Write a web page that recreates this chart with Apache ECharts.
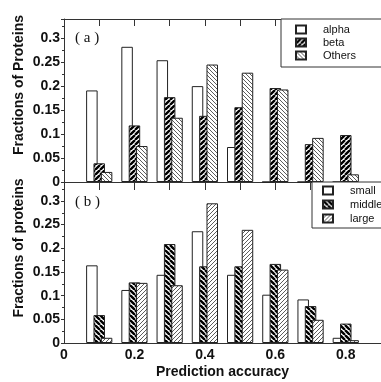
<!DOCTYPE html>
<html lang="en">
<head>
    <meta charset="UTF-8">
    <script src="https://cdn.jsdelivr.net/npm/echarts@6/dist/echarts.min.js"></script>
    <style>
        html, body { margin: 0; padding: 0; background: #fff; }
        #chart { width: 381px; height: 382px; }
    </style>
    <title>Prediction accuracy</title>
</head>
<body>
    <div id="chart"></div>
</body>
</html>
<script type="text/javascript">
    // bin centres on the x axis
    var xs = [0.1, 0.2, 0.3, 0.4, 0.5, 0.6, 0.7, 0.8];
    // panel (a)
    var alpha  = [0.191, 0.282, 0.254, 0.200, 0.073, 0, 0, 0];
    var beta   = [0.039, 0.118, 0.177, 0.138, 0.156, 0.196, 0.079, 0.098];
    var others = [0.021, 0.075, 0.134, 0.245, 0.228, 0.193, 0.092, 0.016];
    // panel (b)
    var small  = [0.164, 0.112, 0.144, 0.236, 0.144, 0.102, 0.092, 0.011];
    var middle = [0.059, 0.128, 0.209, 0.162, 0.162, 0.167, 0.078, 0.041];
    var large  = [0.011, 0.127, 0.122, 0.295, 0.239, 0.155, 0.049, 0.006];

    var FONT = 'Arial, "Liberation Sans", sans-serif';

    // hatch fill: dir 1 = "/", dir -1 = "\"
    function hatch(size, lw, dir, color) {
        var c = document.createElement('canvas');
        c.width = size; c.height = size;
        var ctx = c.getContext('2d');
        ctx.fillStyle = '#fff';
        ctx.fillRect(0, 0, size, size);
        ctx.strokeStyle = color;
        ctx.lineWidth = lw;
        ctx.beginPath();
        for (var k = -1; k <= 1; k++) {
            var x0 = k * size;
            if (dir > 0) {
                ctx.moveTo(x0, size); ctx.lineTo(x0 + size, 0);
            } else {
                ctx.moveTo(x0, 0); ctx.lineTo(x0 + size, size);
            }
        }
        ctx.stroke();
        return { image: c, repeat: 'repeat' };
    }

    function pairs(vals) {
        return xs.map(function (x, i) { return [x, vals[i]]; });
    }

    function barSeries(name, vals, fill, gi) {
        return {
            name: name,
            type: 'bar',
            xAxisIndex: gi === 0 ? 0 : 2,
            yAxisIndex: gi,
            barWidth: 11.5,
            barGap: '-36%',
            data: pairs(vals),
            itemStyle: { color: fill, borderColor: '#222', borderWidth: 1 },
            silent: true
        };
    }

    function yAxisOf(gi) {
        return {
            type: 'value', gridIndex: gi, min: 0, max: 0.34, interval: 0.05,
            axisLine: { show: true, lineStyle: { color: '#333' } },
            axisTick: { show: true, inside: false, length: 3, lineStyle: { color: '#333' } },
            minorTick: { show: true, splitNumber: 2, length: 2, lineStyle: { color: '#333' } },
            splitLine: { show: false },
            axisLabel: { show: true, showMaxLabel: false, margin: 4, color: '#111',
                fontFamily: FONT, fontSize: 14, fontWeight: 'bold' }
        };
    }

    function xAxisOf(gi, pos, opts) {
        return Object.assign({
            type: 'value', gridIndex: gi, position: pos, min: 0, max: 0.9, interval: 0.1,
            axisLine: { show: true, onZero: false, lineStyle: { color: '#333' } },
            splitLine: { show: false },
            axisLabel: { show: false }
        }, opts);
    }

    var chartDom = document.getElementById('chart');
    var myChart = echarts.init(chartDom, null, { renderer: 'canvas' });
    var option;

    option = {
        backgroundColor: '#fff',
        animation: false,
        grid: [
            { left: 64, top: 19, right: -12, height: 163 },
            { left: 64, top: 182, right: -12, height: 161 }
        ],
        xAxis: [
            xAxisOf(0, 'bottom', { axisTick: { show: true, inside: false, length: 8, lineStyle: { color: '#333' } } }),
            xAxisOf(0, 'top', { axisTick: { show: true, inside: true, length: 7, lineStyle: { color: '#333' } } }),
            xAxisOf(1, 'bottom', {
                axisTick: { show: true, inside: true, length: 5, lineStyle: { color: '#333' } },
                axisLabel: {
                    show: true, margin: 5, color: '#111', fontFamily: FONT, fontSize: 14, fontWeight: 'bold',
                    showMaxLabel: false,
                    formatter: function (v) {
                        return Math.round(v * 10) % 2 === 0 ? String(+v.toFixed(1)) : '';
                    }
                },
                name: 'Prediction accuracy',
                nameLocation: 'middle',
                nameGap: 22,
                nameTextStyle: { color: '#111', fontFamily: FONT, fontSize: 14, fontWeight: 'bold' }
            })
        ],
        yAxis: [yAxisOf(0), yAxisOf(1)],
        legend: [
            {
                data: ['alpha', 'beta', 'Others'],
                orient: 'vertical', left: 281, top: 19,
                padding: [5, 80, 6, 14], itemGap: 2,
                itemWidth: 10, itemHeight: 8, icon: 'rect',
                backgroundColor: '#fff', borderColor: '#333', borderWidth: 1,
                selectedMode: false,
                textStyle: { color: '#111', fontFamily: FONT, fontSize: 11, padding: [0, 0, 0, 12] }
            },
            {
                data: ['small', 'middle', 'large'],
                orient: 'vertical', left: 312, top: 182,
                padding: [3, 80, 4, 10], itemGap: 3,
                itemWidth: 10, itemHeight: 8, icon: 'rect',
                backgroundColor: '#fff', borderColor: '#333', borderWidth: 1,
                selectedMode: false,
                textStyle: { color: '#111', fontFamily: FONT, fontSize: 11, padding: [0, 0, 0, 12] }
            }
        ],
        graphic: [
            { type: 'text', x: 75, y: 38, style: { text: '( a )', font: '15px "Liberation Serif", serif', fill: '#111', verticalAlign: 'middle' } },
            { type: 'text', x: 75, y: 202, style: { text: '( b )', font: '15px "Liberation Serif", serif', fill: '#111', verticalAlign: 'middle' } },
            { type: 'text', x: 19, y: 85, rotation: Math.PI / 2,
              style: { text: 'Fractions of Proteins', font: 'bold 14px ' + FONT, fill: '#111', align: 'center', verticalAlign: 'middle' } },
            { type: 'text', x: 19, y: 248, rotation: Math.PI / 2,
              style: { text: 'Fractions of proteins', font: 'bold 14px ' + FONT, fill: '#111', align: 'center', verticalAlign: 'middle' } }
        ],
        series: [
            barSeries('alpha', alpha, '#fff', 0),
            barSeries('beta', beta, hatch(5, 2.4, 1, '#000'), 0),
            barSeries('Others', others, hatch(4, 0.8, -1, '#333'), 0),
            barSeries('small', small, '#fff', 1),
            barSeries('middle', middle, hatch(5, 2.4, -1, '#000'), 1),
            barSeries('large', large, hatch(4, 0.8, 1, '#333'), 1)
        ]
    };
    option && myChart.setOption(option);
</script>
